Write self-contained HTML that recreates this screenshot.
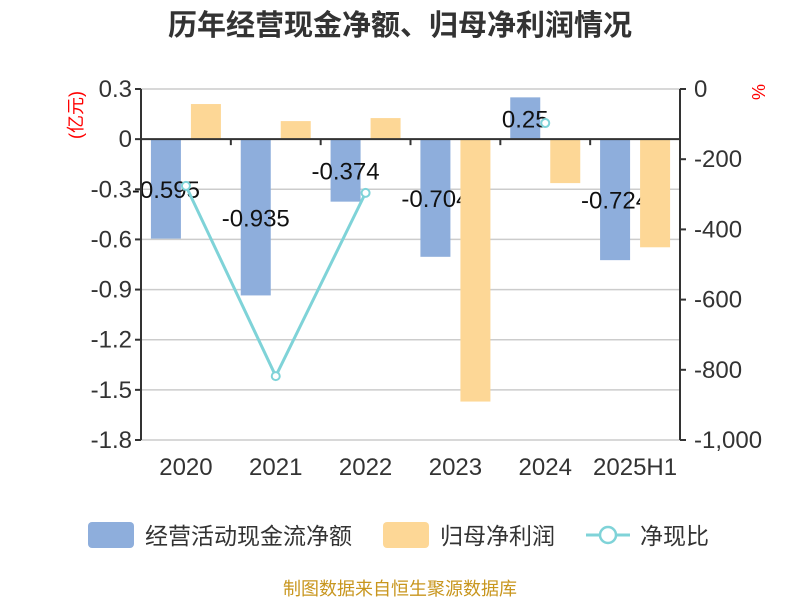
<!DOCTYPE html>
<html><head><meta charset="utf-8"><style>
body{margin:0;background:#fff;font-family:"Liberation Sans","Noto Sans CJK SC",sans-serif}
svg text{font-family:"Liberation Sans","Noto Sans CJK SC",sans-serif}
</style></head><body>
<svg id="c" width="800" height="600" xmlns="http://www.w3.org/2000/svg">
<text x="400" y="35" text-anchor="middle" font-size="29" font-weight="bold" fill="#333">历年经营现金净额、归母净利润情况</text>
<text transform="translate(82,115) rotate(-90)" text-anchor="middle" font-size="18" fill="#f00">(亿元)</text>
<text transform="translate(752,92) rotate(90)" text-anchor="middle" font-size="18" fill="#f00">%</text>
<g id="grid"></g><g id="bars"></g><g id="labels"></g><g id="bars2"></g><g id="axes"></g><g id="line"></g>
<g>
<rect x="88" y="522" width="46" height="26" rx="4" fill="#8eaedc"/>
<text x="145" y="544" font-size="23" fill="#333">经营活动现金流净额</text>
<rect x="383" y="522" width="46" height="26" rx="4" fill="#fdd796"/>
<text x="440" y="544" font-size="23" fill="#333">归母净利润</text>
<line x1="586" y1="535" x2="630" y2="535" stroke="#7fd3d8" stroke-width="3"/>
<circle cx="608" cy="535" r="8" fill="#fff" stroke="#7fd3d8" stroke-width="2.5"/>
<text x="640" y="544" font-size="23" fill="#333">净现比</text>
</g>
<text x="400" y="595" text-anchor="middle" font-size="18" fill="#c8961e">制图数据来自恒生聚源数据库</text>
</svg>
<script>
const categories=["2020","2021","2022","2023","2024","2025H1"];
const cashflow=[-0.595,-0.935,-0.374,-0.704,0.25,-0.724];
const cashLabels=["-0.595","-0.935","-0.374","-0.704","0.25","-0.724"];
const profit=[0.21,0.108,0.126,-1.57,-0.263,-0.647];
const ratio=[-276,-818,-296,null,-97,null];
const leftTicks=[0.3,0,-0.3,-0.6,-0.9,-1.2,-1.5,-1.8];
const leftTickLabels=["0.3","0","-0.3","-0.6","-0.9","-1.2","-1.5","-1.8"];
const rightTicks=[0,-200,-400,-600,-800,-1000];
const rightTickLabels=["0","-200","-400","-600","-800","-1,000"];
const NS="http://www.w3.org/2000/svg";
const X0=141,X1=680,Y0=89,Y1=440;
const bw=(X1-X0)/categories.length;
const yL=v=>Y0+(0.3-v)/2.1*(Y1-Y0);
const yR=v=>Y0+(0-v)/1000*(Y1-Y0);
const xC=i=>X0+bw*(i+0.5);
function mk(p,t,a){const e=document.createElementNS(NS,t);for(const k in a)e.setAttribute(k,a[k]);document.getElementById(p).appendChild(e);return e;}
leftTicks.forEach((v,i)=>{
 const g=mk("grid","line",{x1:X0,x2:X1,y1:yL(v),y2:yL(v),stroke:"#ccc","stroke-width":1.5});
 
 
 const t=mk("axes","text",{x:X0-9,y:yL(v)+8,"text-anchor":"end","font-size":24,fill:"#333"});t.textContent=leftTickLabels[i];
 
 
 mk("axes","line",{x1:X0-6,x2:X0,y1:yL(v),y2:yL(v),stroke:"#333","stroke-width":2});
});
rightTicks.forEach((v,i)=>{
 const t=mk("axes","text",{x:X1+14,y:yR(v)+8,"font-size":24,fill:"#333"});t.textContent=rightTickLabels[i];
 
 
 mk("axes","line",{x1:X1,x2:X1+6,y1:yR(v),y2:yR(v),stroke:"#333","stroke-width":2});
});
const la=mk("axes","line",{x1:X0,x2:X0,y1:Y0,y2:Y1,stroke:"#333","stroke-width":2});

const ra=mk("axes","line",{x1:X1,x2:X1,y1:Y0,y2:Y1,stroke:"#333","stroke-width":2});

const xa=mk("axes","line",{x1:X0,x2:X1,y1:yL(0),y2:yL(0),stroke:"#333","stroke-width":2});

categories.forEach((c,i)=>{
 if(i>0)mk("axes","line",{x1:X0+bw*i,x2:X0+bw*i,y1:yL(0),y2:yL(0)+6,stroke:"#333","stroke-width":2});
 const t=mk("axes","text",{x:xC(i),y:475,"text-anchor":"middle","font-size":24,fill:"#333"});t.textContent=c;
 
 
 const v=cashflow[i];
 const b=mk("bars","rect",{x:xC(i)-35,width:30,y:Math.min(yL(v),yL(0)),height:Math.abs(yL(v)-yL(0)),fill:"#8eaedc"});
 
 
 const l=mk("labels","text",{x:xC(i)-20,y:(yL(v)+yL(0))/2+9,"text-anchor":"middle","font-size":24,fill:"#111"});l.textContent=cashLabels[i];
 
 
 const p=profit[i];
 const b2=mk("bars2","rect",{x:xC(i)+5,width:30,y:Math.min(yL(p),yL(0)),height:Math.abs(yL(p)-yL(0)),fill:"#fdd796"});
 
 
});
let seg=[];
const flush=()=>{if(seg.length>1){const pl=mk("line","polyline",{points:seg.join(" "),fill:"none",stroke:"#7fd3d8","stroke-width":3});}seg=[];};
ratio.forEach((v,i)=>{if(v===null){flush();return;}seg.push(xC(i)+","+yR(v));});flush();
ratio.forEach((v,i)=>{if(v===null)return;
 const c=mk("line","circle",{cx:xC(i),cy:yR(v),r:4,fill:"#fff",stroke:"#7fd3d8","stroke-width":2});
 
 
});
</script>
</body></html>
